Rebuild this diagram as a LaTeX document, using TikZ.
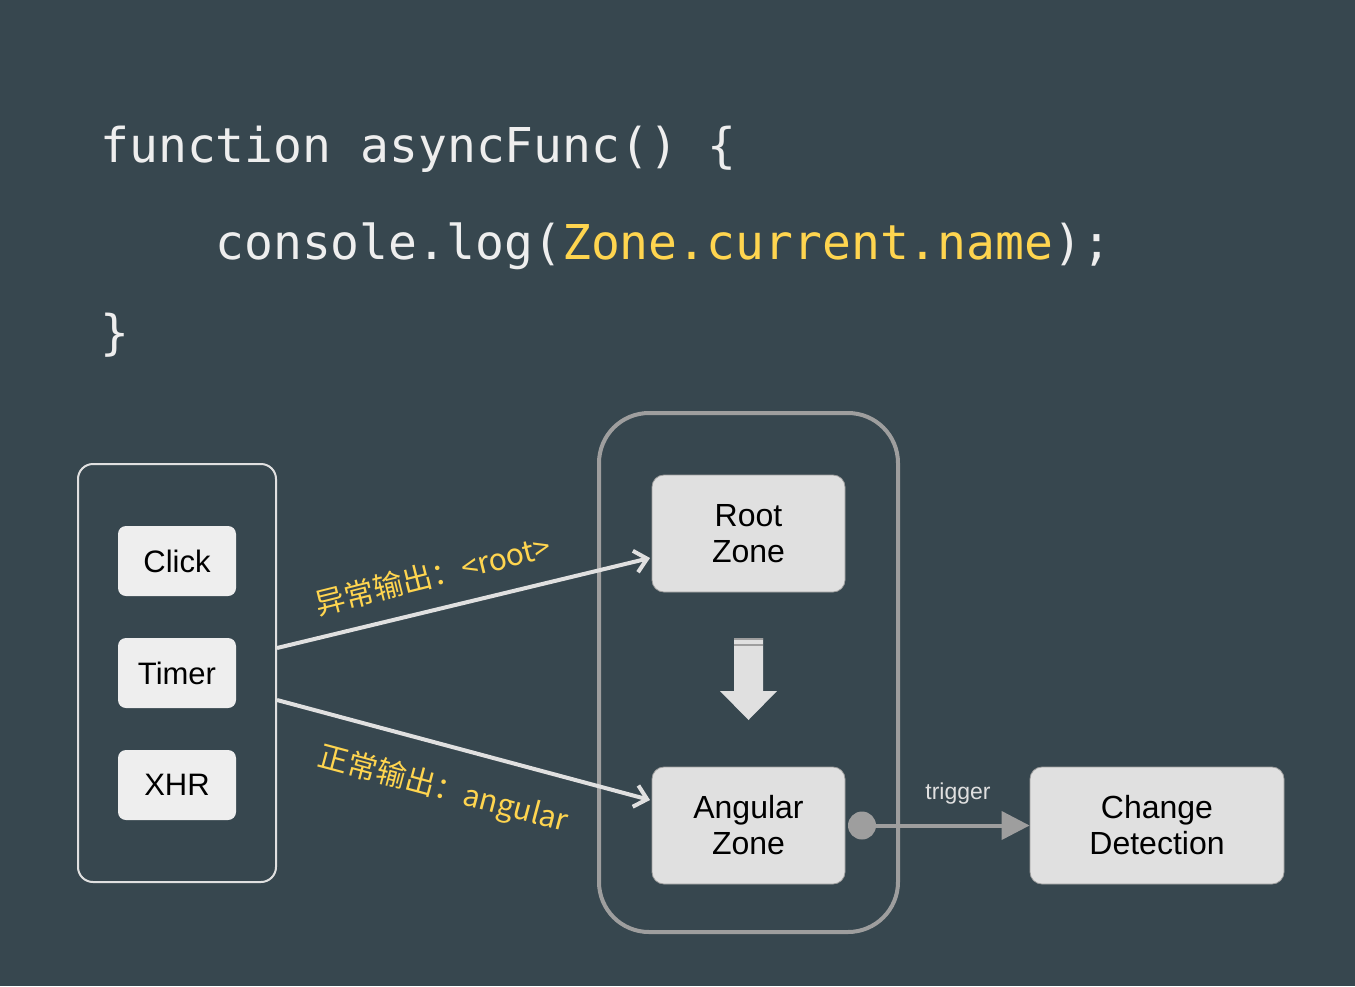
\documentclass[tikz,border=0pt]{standalone}
\usepackage{fontspec}
\setmainfont{Liberation Sans}
\setmonofont{DejaVu Sans Mono}
\newfontfamily\cjk{Noto Sans CJK SC}
\usetikzlibrary{arrows.meta}
\definecolor{slate_bg}{RGB}{55, 71, 79}
\definecolor{code_white}{RGB}{238, 238, 238}
\definecolor{code_yellow}{RGB}{255, 213, 79}
\definecolor{box_light}{RGB}{238, 238, 238}
\definecolor{box_grey}{RGB}{224, 224, 224}
\definecolor{line_grey}{RGB}{158, 158, 158}
\tikzstyle{src}=[anchor=base west,inner sep=0pt,text=code_white,
  font=\ttfamily\fontsize{24}{28}\selectfont]
\tikzstyle{pane}=[rectangle,draw=box_grey,line width=1pt,rounded corners=7.5pt,
  minimum width=99pt,minimum height=209pt]
\tikzstyle{zonepane}=[rectangle,draw=line_grey,line width=2pt,rounded corners=25pt,
  minimum width=149.5pt,minimum height=259.5pt]
\tikzstyle{ev}=[rectangle,rounded corners=4pt,fill=box_light,inner sep=0pt,
  minimum width=59pt,minimum height=35pt,font=\fontsize{15.5}{18}\selectfont]
\tikzstyle{zn}=[rectangle,rounded corners=6pt,fill=box_grey,draw=line_grey,
  line width=0.4pt,inner sep=0pt,minimum width=96.5pt,minimum height=58.5pt,
  align=center,font=\fontsize{16}{18}\selectfont]
\tikzstyle{lbl}=[text=code_yellow,inner sep=0pt,font=\cjk\fontsize{15}{17}\selectfont]
\tikzstyle{flow}=[draw=box_grey,line width=2pt,-{Straight Barb[length=6pt,width=11pt]}]
\tikzstyle{dot}=[circle,fill=line_grey,inner sep=0pt,minimum size=14pt]
\tikzstyle{trig}=[draw=line_grey,line width=2pt,-{Triangle[length=14pt,width=14pt]}]
\tikzstyle{none}=[]

\begin{document}
\begin{tikzpicture}[x=0.5pt, y=-0.5pt]
    \fill [slate_bg] (0, 0) rectangle (1355, 986);
    % code
    \node [style=src] (0) at (100, 162) {function asyncFunc() \{};
    \node [style=src] (1) at (215, 259) {console.log({\color{code_yellow}Zone.current.name});};
    \node [style=src] (2) at (100, 349) {\}};
    % containers
    \node [style=pane] (3) at (177, 673) {};
    \node [style=zonepane] (4) at (748.5, 672.5) {};
    \node [style=ev] (5) at (177, 561) {Click};
    \node [style=ev] (6) at (177, 673) {Timer};
    \node [style=ev] (7) at (177, 785) {XHR};
    \node [style=zn] (8) at (748.5, 533.5) {Root\\Zone};
    \node [style=zn] (9) at (748.5, 825.5) {Angular\\Zone};
    \node [style=zn, minimum width=127pt] (10) at (1157, 825.5) {Change\\Detection};
    \node [style=none] (11) at (277, 648) {};
    \node [style=none] (12) at (650, 558) {};
    \node [style=none] (13) at (277, 700) {};
    \node [style=none] (14) at (650, 800) {};
    \node [style=lbl, rotate=14] (15) at (433, 575) {异常输出：<root>};
    \node [style=lbl, rotate=-15] (16) at (443, 790) {正常输出：angular};
    \node [style=dot] (17) at (862, 825.5) {};
    \node [style=none, text=box_grey, font=\fontsize{11.5}{13}\selectfont] (18) at (958, 794) {trigger};
    \draw [style=flow] (11.center) to (12.center);
    \draw [style=flow] (13.center) to (14.center);
    \draw [style=trig] (17.center) to (10);
    % down arrow
    \fill [box_grey] (734, 638) -- (763, 638) -- (763, 691) -- (777, 691) -- (748.5, 720)
      -- (720, 691) -- (734, 691) -- cycle;
    \draw [line_grey, line width=0.75pt] (734, 639) -- (763, 639);
    \draw [line_grey, line width=0.75pt] (734, 645) -- (763, 645);
\end{tikzpicture}
\end{document}
